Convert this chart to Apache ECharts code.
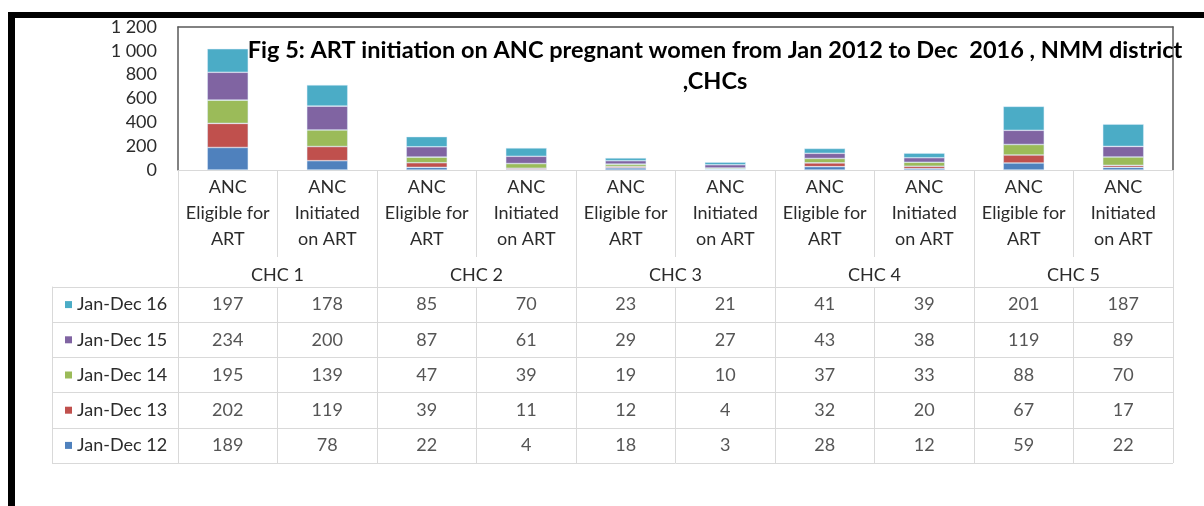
<!DOCTYPE html>
<html>
<head>
<meta charset="utf-8">
<script src="https://cdn.jsdelivr.net/npm/echarts@6/dist/echarts.min.js"></script>
<style>
  html, body { margin: 0; padding: 0; background: #fff; }
  #wrap { position: relative; width: 1204px; height: 506px; }
  #chart { width: 1204px; height: 506px; }
  #frame {
    position: absolute; left: 8px; top: 12px; right: 0; bottom: 0;
    border-top: 6px solid #000; border-left: 7px solid #000;
    pointer-events: none;
  }
</style>
</head>
<body>
<div id="wrap">
  <div id="chart"></div>
  <div id="frame"></div>
</div>
<script>
  // categories and groups
  var categories = [
    'ANC\nEligible for\nART', 'ANC\nInitiated\non ART',
    'ANC\nEligible for\nART', 'ANC\nInitiated\non ART',
    'ANC\nEligible for\nART', 'ANC\nInitiated\non ART',
    'ANC\nEligible for\nART', 'ANC\nInitiated\non ART',
    'ANC\nEligible for\nART', 'ANC\nInitiated\non ART'
  ];
  var groups = ['CHC 1', 'CHC 2', 'CHC 3', 'CHC 4', 'CHC 5'];

  // series values (per column, CHC1 elig, CHC1 init, CHC2 elig ...)
  var jan12 = [189, 78, 22, 4, 18, 3, 28, 12, 59, 22];
  var jan13 = [202, 119, 39, 11, 12, 4, 32, 20, 67, 17];
  var jan14 = [195, 139, 47, 39, 19, 10, 37, 33, 88, 70];
  var jan15 = [234, 200, 87, 61, 29, 27, 43, 38, 119, 89];
  var jan16 = [197, 178, 85, 70, 23, 21, 41, 39, 201, 187];

  var seriesNames = ['Jan-Dec 12', 'Jan-Dec 13', 'Jan-Dec 14', 'Jan-Dec 15', 'Jan-Dec 16'];
  var seriesData = [jan12, jan13, jan14, jan15, jan16];
  var colors = ['#4F81BD', '#C0504D', '#9BBB59', '#8064A2', '#4BACC6'];

  // y axis ticks
  var yMin = 0, yMax = 1200, yStep = 200;

  var FONT = 'Lato';
  var gridLine = '#d9d9d9';
  var boxLine = '#595959';
  var txt = '#2b2b2b';

  var myChart = echarts.init(document.getElementById('chart'));

  // the table rows: top row is Jan-Dec 16
  var rowNames = seriesNames.slice().reverse();
  var rich = { t: { fontFamily: FONT, fontSize: 18, color: txt, padding: [0, 0, 0, 5] } };
  for (var i = 0; i < seriesNames.length; i++) {
    rich['s' + i] = { width: 7, height: 7, backgroundColor: colors[i] };
  }

  var series = [];
  for (var i = 0; i < seriesNames.length; i++) {
    series.push({
      name: seriesNames[i],
      type: 'bar',
      stack: 'all',
      barWidth: 41,
      xAxisIndex: 0,
      yAxisIndex: 0,
      itemStyle: { color: colors[i], borderColor: 'rgba(220,235,250,0.8)', borderWidth: 0.6 },
      data: seriesData[i]
    });
  }

  // table values
  var cells = [];
  for (var i = 0; i < seriesNames.length; i++) {
    for (var j = 0; j < categories.length; j++) {
      cells.push([j, seriesNames[i], seriesData[i][j]]);
    }
  }
  series.push({
    type: 'scatter',
    xAxisIndex: 3,
    yAxisIndex: 2,
    symbolSize: 1,
    itemStyle: { color: 'rgba(0,0,0,0)' },
    label: {
      show: true, position: 'inside',
      fontFamily: FONT, fontSize: 18, color: txt,
      formatter: function (p) { return p.value[2]; }
    },
    data: cells
  });

  var option = {
    animation: false,
    textStyle: { fontFamily: FONT },
    title: {
      text: 'Fig 5: ART initiation on ANC pregnant women from Jan 2012 to Dec  2016 , NMM district\n,CHCs',
      left: 710,
      top: 30,
      textAlign: 'center',
      textStyle: { fontFamily: FONT, fontSize: 23.5, fontWeight: 'bold', color: '#000', lineHeight: 31 }
    },
    grid: [
      { left: 178, right: 31, top: 27, bottom: 336 },
      { left: 178, right: 31, top: 287, bottom: 43 }
    ],
    xAxis: [
      {
        gridIndex: 0, type: 'category', data: categories, position: 'bottom',
        axisLine: { show: true, lineStyle: { color: gridLine, width: 1 } },
        axisTick: { show: true, length: 87, lineStyle: { color: gridLine } },
        axisLabel: { interval: 0, margin: 4, fontFamily: FONT, fontSize: 18, lineHeight: 26, color: txt }
      },
      {
        gridIndex: 0, type: 'category', data: groups, position: 'bottom',
        axisLine: { show: false },
        axisTick: { show: true, length: 117, lineStyle: { color: gridLine } },
        axisLabel: { interval: 0, margin: 96, fontFamily: FONT, fontSize: 18, color: txt }
      },
      {
        gridIndex: 0, type: 'category', data: groups, position: 'top',
        axisLine: { show: true, lineStyle: { color: boxLine, width: 1.5 } },
        axisTick: { show: false }, axisLabel: { show: false }
      },
      {
        gridIndex: 1, type: 'category', data: categories,
        axisLine: { show: false }, axisTick: { show: false }, axisLabel: { show: false },
        splitLine: { show: true, lineStyle: { color: gridLine } }
      }
    ],
    yAxis: [
      {
        gridIndex: 0, type: 'value', min: yMin, max: yMax, interval: yStep,
        axisLine: { show: true, lineStyle: { color: boxLine, width: 1.5 } },
        axisTick: { show: false },
        splitLine: { show: false },
        axisLabel: {
          margin: 21, fontFamily: FONT, fontSize: 18, color: txt,
          formatter: function (v) { return String(v).replace(/\B(?=(\d{3})+(?!\d))/g, ' '); }
        }
      },
      {
        gridIndex: 0, type: 'value', min: yMin, max: yMax, position: 'right',
        axisLine: { show: true, lineStyle: { color: boxLine, width: 1.5 } },
        axisTick: { show: false }, axisLabel: { show: false }, splitLine: { show: false }
      },
      {
        gridIndex: 1, type: 'category', data: rowNames, inverse: true,
        axisLine: { show: true, lineStyle: { color: gridLine } },
        axisTick: { show: true, length: 126, lineStyle: { color: gridLine } },
        splitLine: { show: true, lineStyle: { color: gridLine } },
        axisLabel: {
          margin: 113, align: 'left', rich: rich,
          formatter: function (v) {
            var k = seriesNames.indexOf(v);
            return '{s' + k + '|}{t|' + v + '}';
          }
        }
      },
      {
        gridIndex: 1, type: 'category', data: rowNames, position: 'left', offset: 126,
        axisLine: { show: true, lineStyle: { color: gridLine } },
        axisTick: { show: false }, axisLabel: { show: false }
      }
    ],
    series: series
  };

  myChart.setOption(option, true);
</script>
</body>
</html>
